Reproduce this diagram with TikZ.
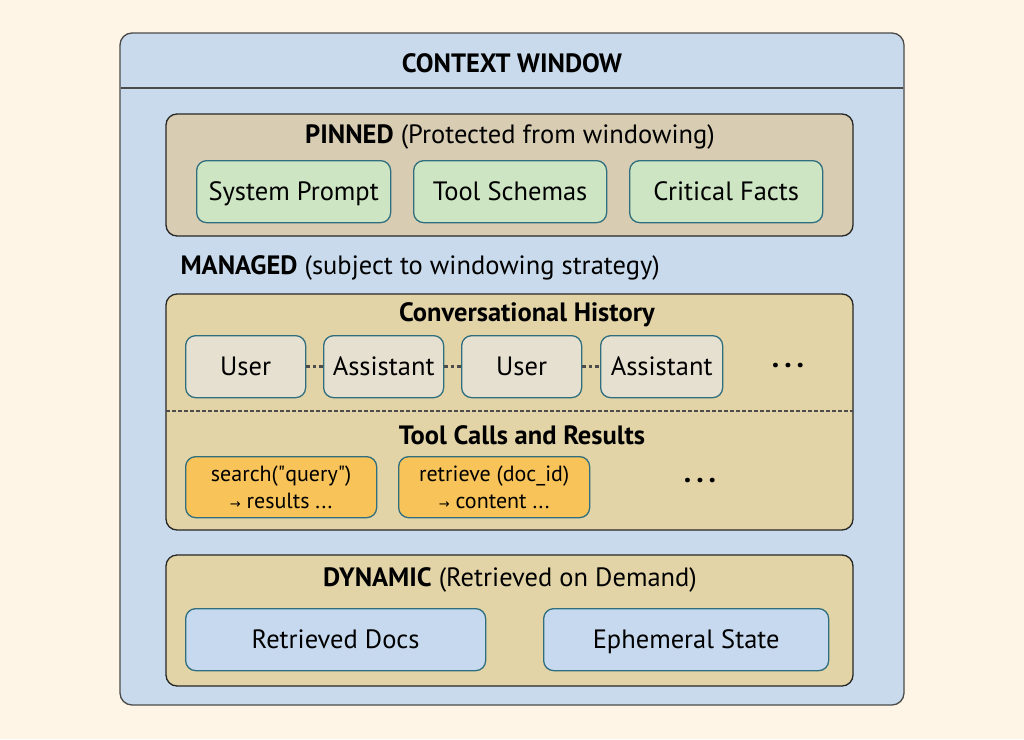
\documentclass[tikz,border=0pt]{standalone}
\usepackage{fontspec}
\setmainfont{PT Sans}
\newfontfamily\symfont{DejaVu Sans}
\usepackage{tikz}
\usetikzlibrary{positioning}

\definecolor{cream}{HTML}{FEF5E7}
\definecolor{winblue}{HTML}{C8DAEB}
\definecolor{pintan}{HTML}{D8CDB2}
\definecolor{mantan}{HTML}{E2D4A6}
\definecolor{edgeteal}{HTML}{2F6E7E}
\definecolor{msggray}{HTML}{E6E0D0}
\definecolor{pingreen}{HTML}{CDE5C2}
\definecolor{calloran}{HTML}{F8C45A}
\definecolor{docblue}{HTML}{C6D9EE}
\definecolor{framegray}{HTML}{4A4A4A}

\begin{document}
\begin{tikzpicture}[x=1pt, y=-1pt,
  every node/.style={font=\fontsize{26.5}{30}\selectfont, text=black},
  zone/.style={draw=black!85, line width=1.3pt, rounded corners=11pt},
  item/.style={draw=edgeteal, line width=1.3pt, rounded corners=10pt, anchor=north west, inner sep=0pt, text height=18.5pt, text depth=0pt},
  small/.style={font=\fontsize{22}{27}\selectfont, text height=, text depth=},
  link/.style={draw=gray!60!black, dash pattern=on 3.5pt off 3pt, line width=3.5pt},
  more/.style={font=\fontsize{30}{30}\selectfont\bfseries}]
  \useasboundingbox (0,0) rectangle (1024,739);
  \fill[cream] (0,0) rectangle (1024,739);
  % context window frame
  \draw[fill=winblue, draw=framegray, line width=1.3pt, rounded corners=12pt] (120,33) rectangle (904,705);
  \draw[framegray, line width=2pt] (121,88) -- (903,88);
  \node (ctx) at (512,63) {\textbf{CONTEXT WINDOW}};
  % pinned
  \draw[zone, fill=pintan] (166,114) rectangle (853,236);
  \node (pin) at (510,137) {\textbf{PINNED} (Protected from windowing)};
  \node[item, fill=pingreen, minimum width=194pt, minimum height=62pt] (sys) at (196,160) {System Prompt};
  \node[item, fill=pingreen, minimum width=193pt, minimum height=62pt] (schema) at (413,160) {Tool Schemas};
  \node[item, fill=pingreen, minimum width=193pt, minimum height=62pt] (facts) at (629,160) {Critical Facts};
  % managed
  \node[anchor=west] (man) at (177,268) {\textbf{MANAGED} (subject to windowing strategy)};
  \draw[zone, fill=mantan] (166,294) rectangle (853,530);
  \node (hist) at (527,315) {\textbf{Conversational History}};
  \node[item, fill=msggray, minimum width=120pt, minimum height=62pt] (user1) at (185,335) {User};
  \node[item, fill=msggray, minimum width=120pt, minimum height=62pt] (asst1) at (323,335) {Assistant};
  \node[item, fill=msggray, minimum width=120pt, minimum height=62pt] (user2) at (461,335) {User};
  \node[item, fill=msggray, minimum width=122pt, minimum height=62pt] (asst2) at (600,335) {Assistant};
  \node[more] (more1) at (788,366) {.\,.\,.};
  \draw[link] (user1) -- (asst1);
  \draw[link] (asst1) -- (user2);
  \draw[link] (user2) -- (asst2);
  \draw[gray!60!black, dash pattern=on 4pt off 2pt, line width=1.3pt] (166,411) -- (853,411);
  \node (calls) at (522,435) {\textbf{Tool Calls and Results}};
  \node[item, small, fill=calloran, minimum width=191pt, minimum height=61pt, align=center] (search) at (185,456) {search(\textquotedbl query\textquotedbl)\\{\symfont\fontsize{13}{27}\selectfont →} results ...};
  \node[item, small, fill=calloran, minimum width=191pt, minimum height=61pt, align=center] (fetch) at (398,456) {retrieve (doc\_id)\\{\symfont\fontsize{13}{27}\selectfont →} content ...};
  \node[more] (more2) at (700,481) {.\,.\,.};
  % dynamic
  \draw[zone, fill=mantan] (166,555) rectangle (853,686);
  \node (dyn) at (510,580) {\textbf{DYNAMIC} (Retrieved on Demand)};
  \node[item, fill=docblue, minimum width=300pt, minimum height=62pt] (docs) at (185,608) {Retrieved Docs};
  \node[item, fill=docblue, minimum width=285pt, minimum height=62pt] (state) at (543,608) {Ephemeral State};
\end{tikzpicture}
\end{document}
